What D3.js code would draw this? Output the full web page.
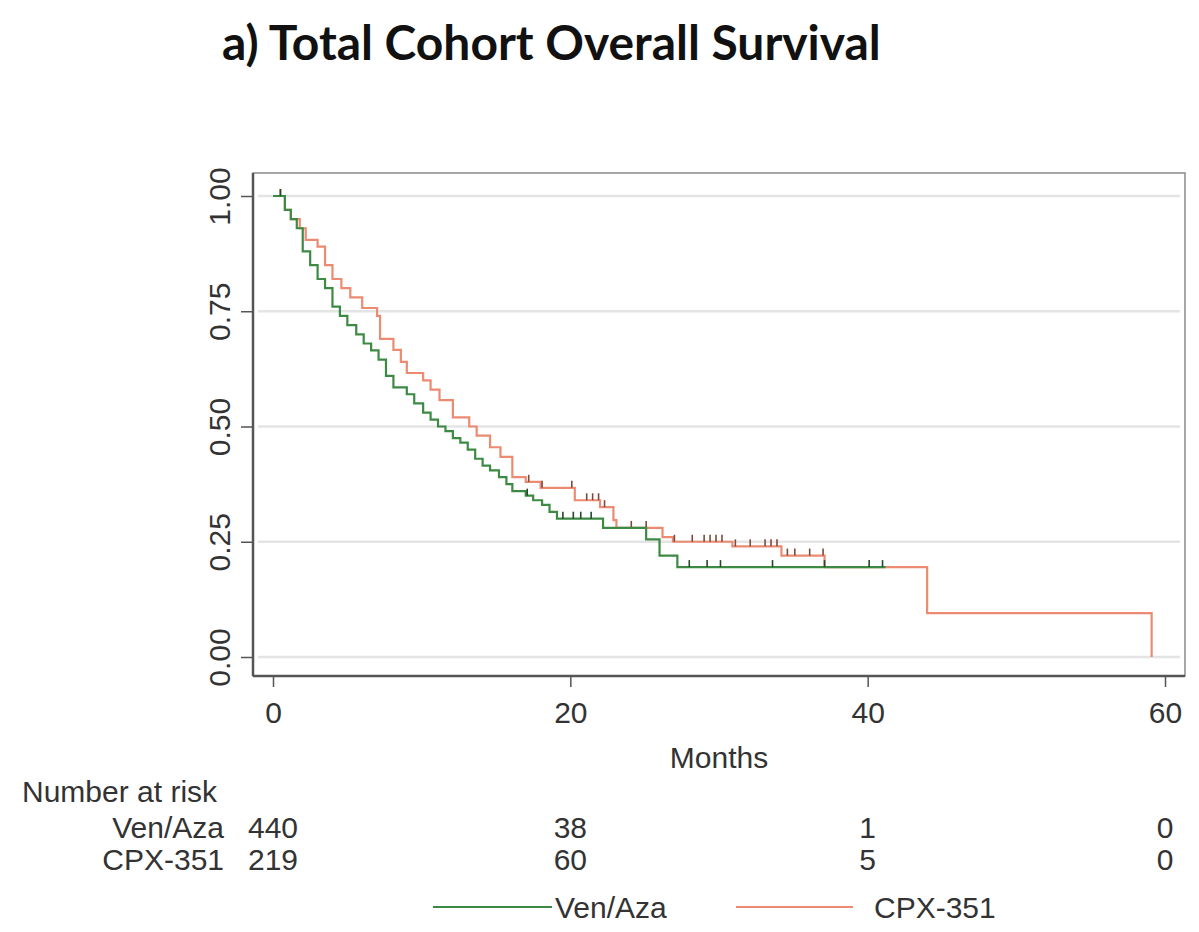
<!DOCTYPE html>
<html lang="en">
<head>
<meta charset="UTF-8">
<title>Total Cohort Overall Survival</title>
<script src="https://d3js.org/d3.v7.min.js"></script>
<style>
    body { margin: 0; background: #fff; }
    svg { display: block; }
    .lbl { font-family: "Liberation Sans", Arial, sans-serif; fill: #333; font-size: 30px; }
</style>
</head>
<body>
<div id="chart"></div>
<script>
// Kaplan-Meier steps: [month, survival after the drop]
var venAzaSteps = [
    [0, 1.0], [0.8, 0.97], [1.2, 0.95], [1.6, 0.93], [2.0, 0.88], [2.5, 0.85],
    [3.0, 0.82], [3.5, 0.80], [4.0, 0.76], [4.5, 0.74], [5.0, 0.72], [5.6, 0.70],
    [6.1, 0.68], [6.6, 0.665], [7.1, 0.645], [7.6, 0.61], [8.1, 0.585], [9.0, 0.57],
    [9.5, 0.55], [10.1, 0.53], [10.6, 0.515], [11.1, 0.50], [11.6, 0.49], [12.1, 0.475],
    [12.6, 0.465], [13.1, 0.45], [13.6, 0.43], [14.1, 0.415], [14.6, 0.405], [15.2, 0.39],
    [15.7, 0.375], [16.1, 0.36], [17.0, 0.35], [17.5, 0.34], [18.1, 0.33], [18.6, 0.315],
    [19.1, 0.30], [22.2, 0.28], [25.1, 0.255], [26.0, 0.22], [27.2, 0.195]
];
var venAzaEnd = 41.2;
var venAzaCensored = [0.5, 17.1, 19.5, 20.2, 20.7, 21.4, 28.0, 29.2, 30.1, 33.6, 37.1, 40.1, 41.0];

var cpxSteps = [
    [0, 1.0], [0.8, 0.97], [1.2, 0.95], [1.8, 0.93], [2.2, 0.905], [3.0, 0.89],
    [3.5, 0.85], [4.0, 0.82], [4.6, 0.80], [5.2, 0.78], [6.0, 0.757], [7.0, 0.74],
    [7.2, 0.69], [8.1, 0.666], [8.6, 0.64], [9.0, 0.616], [10.1, 0.60], [10.6, 0.58],
    [11.2, 0.557], [12.1, 0.52], [13.2, 0.50], [13.7, 0.48], [14.6, 0.455], [15.3, 0.434],
    [16.1, 0.39], [17.0, 0.38], [18.0, 0.367], [20.3, 0.34], [22.0, 0.325], [22.9, 0.297],
    [23.1, 0.28], [26.2, 0.26], [26.9, 0.25], [30.9, 0.24], [34.2, 0.22], [37.1, 0.195],
    [44.0, 0.095], [59.1, 0.0]
];
var cpxEnd = 59.1;
var cpxCensored = [0.5, 17.2, 18.1, 20.1, 21.1, 21.5, 21.9, 22.3, 24.1, 25.1, 27.0, 28.2,
    29.0, 29.4, 29.8, 30.2, 31.1, 32.1, 33.1, 33.5, 33.9, 34.6, 35.1, 36.1, 37.0];

var xTicks = [0, 20, 40, 60];
var yTicks = [0, 0.25, 0.5, 0.75, 1];
var riskGroups = ["Ven/Aza", "CPX-351"];
var riskVenAza = [440, 38, 1, 0];
var riskCpx = [219, 60, 5, 0];

var W = 1199, H = 932;
var green = "#3d8a45", orange = "#ec8a72";

var svg = d3.select("#chart").append("svg")
    .attr("width", W).attr("height", H);

// title
var title = svg.append("text")
    .attr("x", 222).attr("y", 60)
    .style("font-family", "Lato, 'Open Sans', sans-serif")
    .style("font-weight", "700")
    .style("font-size", "38px")
    .style("fill", "#111")
    .text("a)  Total Cohort Overall Survival");
// squeeze to the width it has in the picture
var tw = title.node().getComputedTextLength();
title.style("font-size", (38 * 659 / tw) + "px");

var x = d3.scaleLinear().domain([0, 60]).range([273, 1165]);
var y = d3.scaleLinear().domain([0, 1]).range([657, 196]);

var plotL = 253, plotR = 1185, plotT = 173, plotB = 676;

// plot frame
svg.append("rect")
    .attr("x", plotL).attr("y", plotT)
    .attr("width", plotR - plotL).attr("height", plotB - plotT)
    .attr("fill", "none").attr("stroke", "#8a8a8a").attr("stroke-width", 1.5);

// grid lines
svg.append("g").selectAll("line").data(yTicks).join("line")
    .attr("x1", plotL + 5).attr("x2", plotR - 5)
    .attr("y1", d => y(d)).attr("y2", d => y(d))
    .attr("stroke", "#e4e4e4").attr("stroke-width", 2.5);

// y axis
var yAxis = svg.append("g")
    .attr("transform", "translate(" + plotL + ",0)")
    .call(d3.axisLeft(y).tickValues(yTicks).tickFormat(d3.format(".2f")).tickSize(12));
yAxis.select(".domain").attr("d", "M0," + plotT + "V" + plotB).attr("stroke", "#555").attr("stroke-width", 2.5);
yAxis.selectAll(".tick line").attr("stroke", "#555").attr("stroke-width", 1.5);
yAxis.selectAll(".tick text")
    .attr("class", "lbl")
    .style("font-size", null).attr("font-size", null)
    .attr("x", null).attr("dy", null)
    .attr("text-anchor", "middle")
    .attr("transform", "translate(-23,0) rotate(-90)");

// x axis
var xAxis = svg.append("g")
    .attr("transform", "translate(0," + plotB + ")")
    .call(d3.axisBottom(x).tickValues(xTicks).tickSize(11).tickPadding(15));
xAxis.select(".domain").attr("d", "M" + plotL + ",0H" + plotR).attr("stroke", "#555").attr("stroke-width", 2.5);
xAxis.selectAll(".tick line").attr("stroke", "#555").attr("stroke-width", 1.5);
xAxis.selectAll(".tick text").attr("class", "lbl").attr("font-size", null);
svg.selectAll(".tick text").attr("font-family", null);

svg.append("text").attr("class", "lbl")
    .attr("x", 719).attr("y", 768)
    .attr("text-anchor", "middle")
    .text("Months");

// survival curves
function stepPath(steps, end) {
    var pts = steps.map(d => [d[0], d[1]]);
    var last = steps[steps.length - 1];
    if (end > last[0]) pts.push([end, last[1]]);
    return d3.line().x(d => x(d[0])).y(d => y(d[1])).curve(d3.curveStepAfter)(pts);
}
function survAt(steps, t) {
    var s = 1;
    steps.forEach(d => { if (d[0] <= t) s = d[1]; });
    return s;
}

var curves = [
    { steps: cpxSteps, end: cpxEnd, cens: cpxCensored, color: orange, tick: "#7d4a3a" },
    { steps: venAzaSteps, end: venAzaEnd, cens: venAzaCensored, color: green, tick: "#244a28" }
];

curves.forEach(function (c) {
    svg.append("path")
        .attr("d", stepPath(c.steps, c.end))
        .attr("fill", "none")
        .attr("stroke", c.color)
        .attr("stroke-width", 2.2);
    svg.append("g").selectAll("line").data(c.cens).join("line")
        .attr("x1", d => x(d)).attr("x2", d => x(d))
        .attr("y1", d => y(survAt(c.steps, d)))
        .attr("y2", d => y(survAt(c.steps, d)) - 7)
        .attr("stroke", c.tick).attr("stroke-width", 1.6);
});

// number at risk table
svg.append("text").attr("class", "lbl")
    .attr("x", 22).attr("y", 802)
    .text("Number at risk");

var riskRows = [riskVenAza, riskCpx];
riskGroups.forEach(function (g, i) {
    var ry = 838 + i * 32;
    svg.append("text").attr("class", "lbl")
        .attr("x", 224).attr("y", ry)
        .attr("text-anchor", "end")
        .text(g);
    svg.append("g").selectAll("text").data(riskRows[i]).join("text")
        .attr("class", "lbl")
        .attr("x", (d, j) => x(xTicks[j]))
        .attr("y", ry)
        .attr("text-anchor", "middle")
        .text(d => d);
});

// legend
var legend = [
    { name: "Ven/Aza", color: green, x0: 433, x1: 552, gap: 3 },
    { name: "CPX-351", color: orange, x0: 736, x1: 853, gap: 21 }
];
legend.forEach(function (l) {
    svg.append("line")
        .attr("x1", l.x0).attr("x2", l.x1)
        .attr("y1", 907).attr("y2", 907)
        .attr("stroke", l.color).attr("stroke-width", 2.2);
    svg.append("text").attr("class", "lbl")
        .attr("x", l.x1 + l.gap).attr("y", 918)
        .text(l.name);
});
</script>
</body>
</html>
